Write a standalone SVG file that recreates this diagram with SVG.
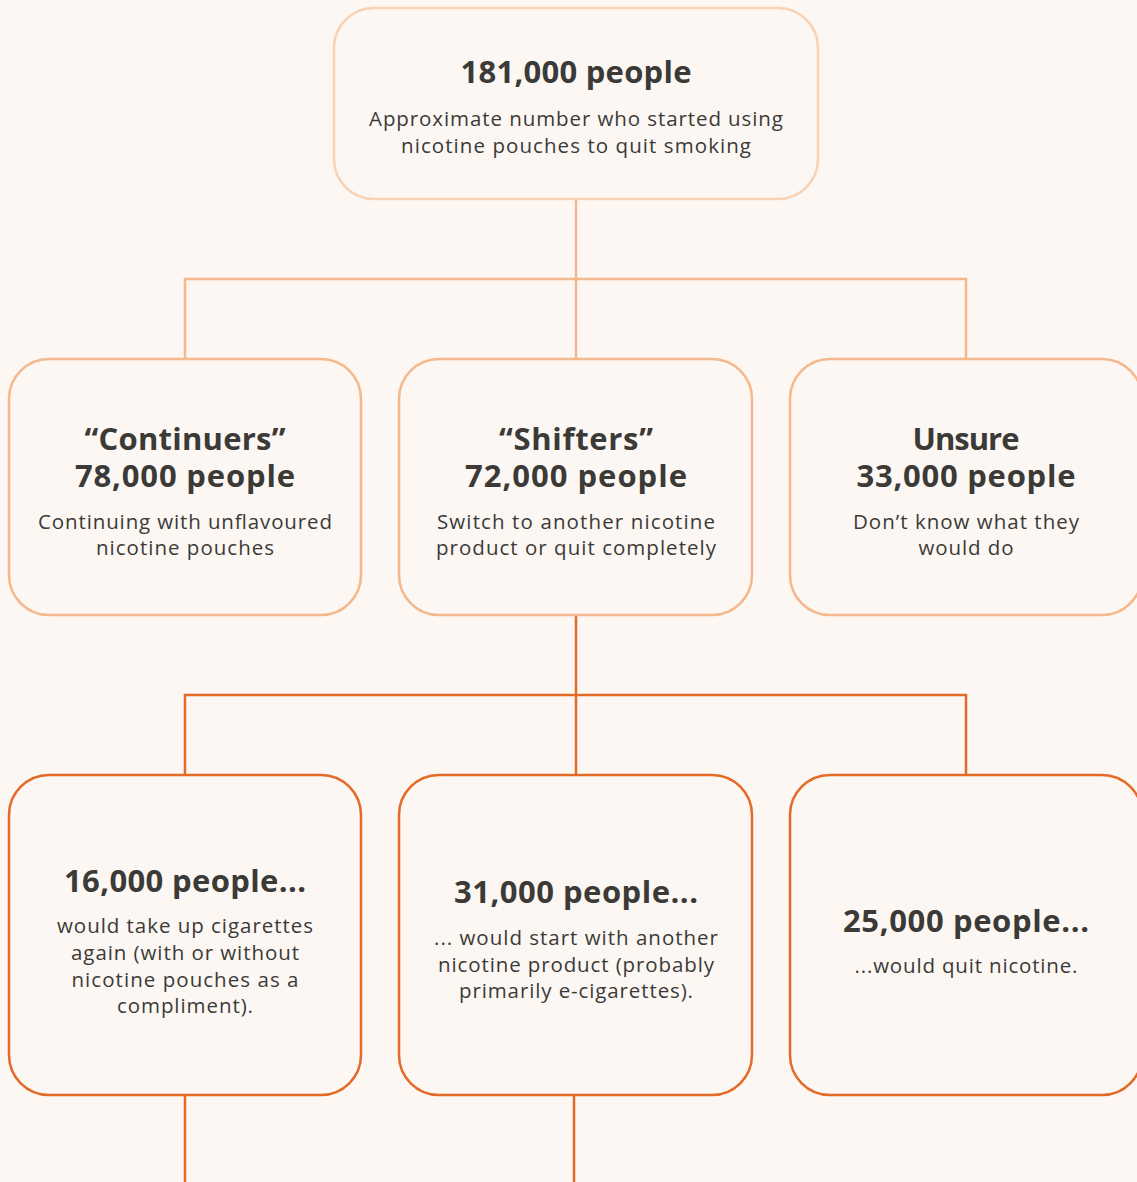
<svg xmlns="http://www.w3.org/2000/svg" width="1137" height="1182" viewBox="0 0 1137 1182">
<style>
.bg{fill:#FCF7F3}
.box{fill:#FCF7F3;stroke-width:2.5}
.l0{stroke:#F9D2B4}
.l1{stroke:#F4B88C}
.l2{stroke:#E46A27}
.conn{fill:none;stroke-width:2.5}
.h{font-family:"Open Sans","Liberation Sans",sans-serif;font-weight:700;font-size:31px;fill:#3B3A37;text-anchor:middle}
.t{font-family:"Open Sans","Liberation Sans",sans-serif;font-weight:400;font-size:20.5px;fill:#3B3A37;text-anchor:middle}
</style>
<rect class="bg" x="0" y="0" width="1137" height="1182"/>
<g id="connectors">
<path class="conn l1" d="M576 200V279M185 359V279H966V359M576 279V359"/>
<path class="conn l2" d="M576 615V695M185 775V695H966V775M576 695V775"/>
<path class="conn l2" d="M185 1095V1182M574 1095V1182"/>
</g>
<g id="top">
<rect class="box l0" x="334" y="8" width="484" height="191" rx="40"/>
<text class="h" x="576" y="83" textLength="231">181,000 people</text>
<text class="t" x="576" y="126" textLength="414">Approximate number who started using</text>
<text class="t" x="576" y="153" textLength="350">nicotine pouches to quit smoking</text>
</g>
<g id="continuers">
<rect class="box l1" x="9" y="359" width="352" height="256" rx="40"/>
<text class="h" x="185" y="450" textLength="201">“Continuers”</text>
<text class="h" x="185" y="487" textLength="220">78,000 people</text>
<text class="t" x="185" y="529" textLength="294">Continuing with unflavoured</text>
<text class="t" x="185" y="555" textLength="178">nicotine pouches</text>
</g>
<g id="shifters">
<rect class="box l1" x="399" y="359" width="353" height="256" rx="40"/>
<text class="h" x="576" y="450" textLength="154">“Shifters”</text>
<text class="h" x="576" y="487" textLength="222">72,000 people</text>
<text class="t" x="576" y="529" textLength="278">Switch to another nicotine</text>
<text class="t" x="576" y="555" textLength="280">product or quit completely</text>
</g>
<g id="unsure">
<rect class="box l1" x="790" y="359" width="352" height="256" rx="40"/>
<text class="h" x="966" y="450" textLength="107">Unsure</text>
<text class="h" x="966" y="487" textLength="219">33,000 people</text>
<text class="t" x="966" y="529" textLength="226">Don’t know what they</text>
<text class="t" x="966" y="555" textLength="95">would do</text>
</g>
<g id="cigarettes">
<rect class="box l2" x="9" y="775" width="352" height="320" rx="40"/>
<text class="h" x="185" y="892" textLength="242">16,000 people...</text>
<text class="t" x="185" y="933" textLength="256">would take up cigarettes</text>
<text class="t" x="185" y="960" textLength="228">again (with or without</text>
<text class="t" x="185" y="987" textLength="227">nicotine pouches as a</text>
<text class="t" x="185" y="1013" textLength="136">compliment).</text>
</g>
<g id="other-product">
<rect class="box l2" x="399" y="775" width="353" height="320" rx="40"/>
<text class="h" x="576" y="903" textLength="244">31,000 people...</text>
<text class="t" x="576" y="945" textLength="284">... would start with another</text>
<text class="t" x="576" y="972" textLength="276">nicotine product (probably</text>
<text class="t" x="576" y="998" textLength="234">primarily e-cigarettes).</text>
</g>
<g id="quit">
<rect class="box l2" x="790" y="775" width="352" height="320" rx="40"/>
<text class="h" x="966" y="932" textLength="246">25,000 people...</text>
<text class="t" x="966" y="973" textLength="223">...would quit nicotine.</text>
</g>
</svg>
